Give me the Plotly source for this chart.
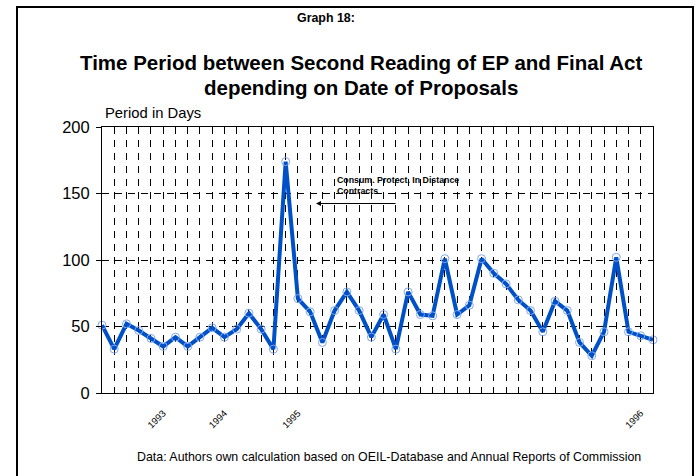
import plotly.graph_objects as go

# days between second reading of EP and final act, one value per proposal
proposal = list(range(46))
days = [51, 33, 52, 47, 41, 35, 42, 35, 42, 49, 42, 48, 60, 48, 33, 174, 71, 61, 38, 62,
        76, 62, 42, 59, 33, 76, 59, 58, 101, 59, 66, 101, 90, 82, 70, 62, 46, 69, 62, 38,
        28, 46, 102, 46, 43, 40]
year_pos = [5, 10, 16, 44]
year_text = ["1993", "1994", "1995", "1996"]

FONT = "Arial, Liberation Sans, sans-serif"
W, H = 698, 476
L, R, T, B = 102, 45, 127, 83
pw, ph = W - L - R, H - T - B


def px(x):
    return (x - L) / pw


def py(y):
    return (H - B - y) / ph


fig = go.Figure()
fig.add_trace(go.Scatter(
    x=proposal, y=days, mode="lines+markers", cliponaxis=False,
    line=dict(color="#0050c8", width=4),
    marker=dict(symbol="circle-open", size=8, color="#7fa8f0", line=dict(width=1)),
    showlegend=False))

grid = dict(showgrid=True, gridcolor="#000000", gridwidth=1, griddash="7px,6px")

fig.update_xaxes(range=[0, 45], tickmode="array", tickvals=year_pos, ticktext=year_text,
                 tickangle=-45, tickfont=dict(size=9.5, family=FONT, color="#000"),
                 ticks="", ticklabelstandoff=10, showline=True, mirror=True,
                 linecolor="#000", linewidth=1, zeroline=False,
                 minor=dict(dtick=1, tick0=0, **grid), **grid)
fig.update_yaxes(range=[0, 200], dtick=50, ticks="outside", ticklen=5, tickcolor="#000",
                 tickfont=dict(size=16.5, family=FONT, color="#000"), ticklabelstandoff=3,
                 showline=True, mirror=True, linecolor="#000", linewidth=1, zeroline=False,
                 **grid)

ann = [
    dict(text="<b>Graph 18:</b>", x=px(326), y=py(18), font=dict(size=12.4)),
    dict(text="<b>Time Period between Second Reading of EP and Final Act</b>",
         x=px(361), y=py(62), font=dict(size=20.5)),
    dict(text="<b>depending on Date of Proposals</b>", x=px(361), y=py(87), font=dict(size=20.5)),
    dict(text="Period in Days", x=px(103), y=py(113), xanchor="left", font=dict(size=14.8)),
    dict(text="Data: Authors own calculation based on OEIL-Database and Annual Reports of Commission",
         x=px(389), y=py(457), font=dict(size=12.4)),
    dict(text="<b>Consum. Protect. In Distance</b>", x=px(335), y=py(180), xanchor="left",
         font=dict(size=8.8)),
    dict(text="<b>Contracts</b>", x=px(335), y=py(191), xanchor="left", font=dict(size=8.8)),
]
for a in ann:
    a.update(xref="paper", yref="paper", showarrow=False, yanchor="middle")
    a.setdefault("xanchor", "center")
    a["font"].update(family=FONT, color="#000")
    fig.add_annotation(**a)

# arrow pointing at the peak
fig.add_annotation(x=px(316), y=py(203.5), xref="paper", yref="paper", text="",
                   showarrow=True, ax=81, ay=0, arrowhead=2, arrowsize=1, arrowwidth=1,
                   arrowcolor="#000")

# outer frame
fig.add_shape(type="rect", xref="paper", yref="paper", x0=px(17), x1=px(693),
              y0=py(490), y1=py(7), line=dict(color="#000", width=2))

fig.update_layout(width=W, height=H, margin=dict(l=L, r=R, t=T, b=B),
                  plot_bgcolor="white", paper_bgcolor="white",
                  font=dict(family=FONT, color="#000"))

# drop the default page margin so the figure sits at the window corner
fig.write_html("out.html", config={"displayModeBar": False},
               post_script="document.body.style.margin='0';")
